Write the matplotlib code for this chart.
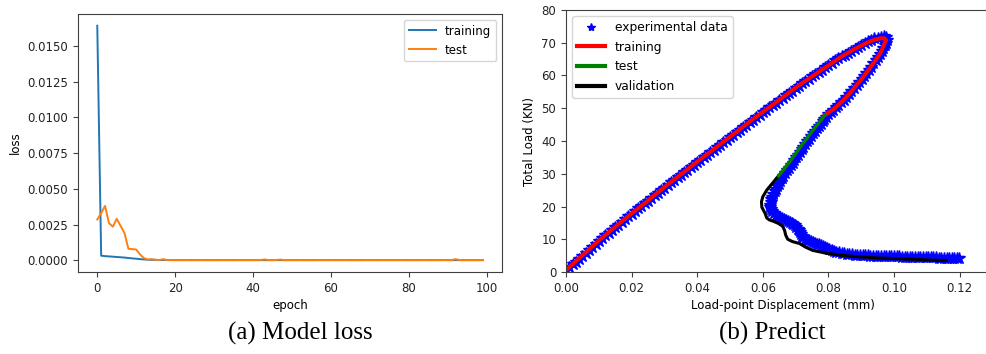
import matplotlib
matplotlib.use("Agg")
import matplotlib.pyplot as plt
from matplotlib.ticker import FormatStrFormatter

# ---- loss history (one value per epoch) ----
epochs = list(range(100))
train_loss = [
    0.0164, 0.00032, 0.00029, 0.00027, 0.00025, 0.00023, 0.00021, 0.00019, 0.00016, 0.00013,
    0.00011, 0.00008, 0.00006, 0.00004, 0.00003, 0.00003, 0.00002, 0.00002, 0.00002, 0.00001,
    0.00001, 0.00001, 0.00001, 0.00001, 0.00001, 0.00001, 0.00001, 0.00001, 0.00001, 0.00001,
    0.00001, 0.00001, 0.00001, 0.00001, 0.00001, 0.00001, 0.00001, 0.00001, 0.00001, 0.00001,
    0.00001, 0.00001, 0.00001, 0.00001, 0.00001, 0.00001, 0.00001, 0.00001, 0.00001, 0.00001,
    0.00001, 0.00001, 0.00001, 0.00001, 0.00001, 0.00001, 0.00001, 0.00001, 0.00001, 0.00001,
    0.00001, 0.00001, 0.00001, 0.00001, 0.00001, 0.00001, 0.00001, 0.00001, 0.00001, 0.00001,
    0.00001, 0.00001, 0.00001, 0.00001, 0.00001, 0.00001, 0.00001, 0.00001, 0.00001, 0.00001,
    0.00001, 0.00001, 0.00001, 0.00001, 0.00001, 0.00001, 0.00001, 0.00001, 0.00001, 0.00001,
    0.00001, 0.00001, 0.00001, 0.00001, 0.00001, 0.00001, 0.00001, 0.00001, 0.00001, 0.00001,
]
test_loss = [
    0.00285, 0.0033, 0.0038, 0.0026, 0.00235, 0.0029, 0.0024, 0.0019, 0.0008, 0.00078,
    0.00075, 0.0004, 0.00015, 0.00005, 0.00008, 0.00003, 0.00002, 0.00008, 0.00001, 0.00002,
    0.00002, 0.00001, 0.00001, 0.00002, 0.00001, 0.00001, 0.00001, 0.00002, 0.00001, 0.00001,
    0.00001, 0.00001, 0.00002, 0.00001, 0.00001, 0.00001, 0.00002, 0.00001, 0.00001, 0.00001,
    0.00001, 0.00002, 0.00001, 0.00006, 0.00001, 0.00001, 0.00002, 0.00005, 0.00001, 0.00001,
    0.00001, 0.00001, 0.00002, 0.00001, 0.00001, 0.00001, 0.00001, 0.00002, 0.00001, 0.00001,
    0.00002, 0.00001, 0.00001, 0.00001, 0.00002, 0.00001, 0.00001, 0.00001, 0.00001, 0.00002,
    0.00001, 0.00001, 0.00001, 0.00002, 0.00001, 0.00001, 0.00001, 0.00001, 0.00002, 0.00001,
    0.00001, 0.00001, 0.00001, 0.00001, 0.00002, 0.00001, 0.00001, 0.00001, 0.00001, 0.00002,
    0.00001, 0.00001, 0.00008, 0.00002, 0.00001, 0.00001, 0.00001, 0.00001, 0.00001, 0.00001,
]

# ---- experimental load / displacement, split by branch ----
# loading branch up to the peak
load_disp = [
    0.000, 0.001, 0.002, 0.003, 0.004, 0.005, 0.006, 0.007, 0.008, 0.009,
    0.010, 0.011, 0.012, 0.013, 0.014, 0.015, 0.016, 0.017, 0.018, 0.019,
    0.020, 0.021, 0.022, 0.023, 0.024, 0.025, 0.026, 0.027, 0.028, 0.029,
    0.030, 0.031, 0.032, 0.033, 0.034, 0.035, 0.036, 0.037, 0.038, 0.039,
    0.040, 0.041, 0.042, 0.043, 0.044, 0.045, 0.046, 0.047, 0.048, 0.049,
    0.050, 0.051, 0.052, 0.053, 0.054, 0.055, 0.056, 0.057, 0.058, 0.059,
    0.060, 0.061, 0.062, 0.063, 0.064, 0.065, 0.066, 0.067, 0.068, 0.069,
    0.070, 0.071, 0.072, 0.073, 0.074, 0.075, 0.076, 0.077, 0.078, 0.079,
    0.080, 0.081, 0.082, 0.083, 0.084, 0.085, 0.086, 0.087, 0.088, 0.089,
    0.090, 0.091, 0.092, 0.093, 0.094, 0.095, 0.096, 0.097, 0.0975,
]
load_kn = [
    0.5, 1.4, 2.3, 3.2, 4.1, 5.0, 5.9, 6.8, 7.7, 8.6,
    9.5, 10.4, 11.2, 12.0, 12.8, 13.7, 14.5, 15.3, 16.1, 17.0,
    17.8, 18.6, 19.4, 20.2, 21.0, 21.8, 22.6, 23.4, 24.2, 25.0,
    25.8, 26.6, 27.4, 28.1, 28.9, 29.7, 30.5, 31.2, 32.0, 32.8,
    33.6, 34.3, 35.1, 35.8, 36.6, 37.4, 38.2, 38.9, 39.7, 40.4,
    41.2, 41.9, 42.7, 43.5, 44.3, 45.0, 45.8, 46.5, 47.3, 48.0,
    48.8, 49.5, 50.3, 51.0, 51.7, 52.4, 53.2, 53.9, 54.7, 55.4,
    56.2, 56.9, 57.6, 58.3, 59.0, 59.7, 60.5, 61.1, 61.8, 62.5,
    63.2, 63.9, 64.6, 65.2, 65.9, 66.4, 67.0, 67.6, 68.2, 68.8,
    69.4, 70.0, 70.5, 70.9, 71.3, 71.6, 71.9, 72.1, 71.8,
]
# post-peak unloading branch
unload_disp = [
    0.0980, 0.0976, 0.0972, 0.0967, 0.0962, 0.0956, 0.0950, 0.0944, 0.0937, 0.0930,
    0.0923, 0.0916, 0.0908, 0.0901, 0.0893, 0.0886, 0.0878, 0.0870, 0.0862, 0.0854,
    0.0846, 0.0838, 0.0830, 0.0822, 0.0815, 0.0808, 0.0800, 0.0794, 0.0788, 0.0782,
    0.0776, 0.0770, 0.0764, 0.0758, 0.0752, 0.0746, 0.0740, 0.0735, 0.0729, 0.0724,
    0.0718, 0.0713, 0.0707, 0.0702, 0.0696, 0.0691, 0.0685, 0.0680, 0.0674, 0.0669,
    0.0663, 0.0658, 0.0653, 0.0648, 0.0644, 0.0640, 0.0636, 0.0632, 0.0629, 0.0626,
    0.0624, 0.0623, 0.0623,
]
unload_kn = [
    70.8, 70.0, 69.2, 68.3, 67.5, 66.5, 65.6, 64.7, 63.7, 62.7,
    61.8, 60.8, 59.9, 58.9, 58.0, 57.1, 56.2, 55.2, 54.3, 53.4,
    52.6, 51.8, 51.0, 50.3, 49.6, 48.8, 48.1, 47.4, 46.8, 46.0,
    45.3, 44.6, 43.9, 43.1, 42.3, 41.5, 40.7, 39.9, 39.1, 38.3,
    37.5, 36.6, 35.8, 35.0, 34.2, 33.4, 32.6, 31.8, 31.0, 30.2,
    29.4, 28.6, 27.8, 27.0, 26.2, 25.4, 24.6, 23.8, 23.0, 22.2,
    21.4, 20.6, 19.9,
]
# softening tail
soft_disp = [
    0.0625, 0.0628, 0.0633, 0.0640, 0.0646, 0.0652, 0.0658, 0.0664, 0.0670, 0.0676,
    0.0682, 0.0688, 0.0693, 0.0698, 0.0702, 0.0706, 0.0709, 0.0712, 0.0715, 0.0718,
    0.0723, 0.0728, 0.0734, 0.0741, 0.0747, 0.0754, 0.0760, 0.0766, 0.0772, 0.0778,
    0.0784, 0.0790, 0.0796, 0.0803, 0.0810, 0.0817, 0.0824, 0.0832, 0.0840, 0.0848,
    0.0856, 0.0864, 0.0872, 0.0880, 0.0888, 0.0896, 0.0904, 0.0912, 0.0920, 0.0928,
    0.0936, 0.0944, 0.0952, 0.0960, 0.0968, 0.0976, 0.0984, 0.0992, 0.1000, 0.1008,
    0.1016, 0.1024, 0.1032, 0.1040, 0.1048, 0.1056, 0.1064, 0.1072, 0.1080, 0.1088,
    0.1096, 0.1104, 0.1112, 0.1120, 0.1128, 0.1136, 0.1144, 0.1152, 0.1160, 0.1168,
    0.1176, 0.1184, 0.1192, 0.1198,
]
soft_kn = [
    19.2, 18.5, 17.9, 17.4, 17.1, 16.8, 16.5, 16.2, 15.9, 15.6,
    15.3, 15.0, 14.6, 14.2, 13.7, 13.2, 12.7, 12.1, 11.6, 11.0,
    10.6, 10.2, 9.9, 9.7, 9.4, 9.2, 8.9, 8.7, 8.4, 8.1,
    7.8, 7.5, 7.2, 6.9, 6.6, 6.4, 6.2, 6.0, 5.8, 5.7,
    5.6, 5.5, 5.4, 5.3, 5.25, 5.2, 5.15, 5.1, 5.05, 5.0,
    5.0, 5.0, 4.95, 4.9, 4.9, 4.9, 4.85, 4.8, 4.8, 4.8,
    4.75, 4.7, 4.7, 4.7, 4.65, 4.6, 4.6, 4.6, 4.55, 4.5,
    4.5, 4.5, 4.5, 4.5, 4.45, 4.4, 4.4, 4.4, 4.4, 4.4,
    4.35, 4.3, 4.3, 4.3,
]

# ---- model predictions ----
train_disp = [0.000, 0.004, 0.008, 0.012, 0.016, 0.020, 0.024, 0.028, 0.032, 0.036,
              0.040, 0.044, 0.048, 0.052, 0.056, 0.060, 0.064, 0.068, 0.072, 0.076,
              0.080, 0.084, 0.088, 0.0915, 0.0940, 0.0960, 0.0972, 0.0976, 0.0972,
              0.0958, 0.0940, 0.0920, 0.0900, 0.0880, 0.0860, 0.0840, 0.0815, 0.0789]
train_load = [0.6, 4.2, 7.8, 11.3, 14.6, 17.9, 21.0, 24.3, 27.5, 30.6,
              33.7, 36.7, 39.8, 42.8, 45.9, 48.9, 51.8, 54.8, 57.7, 60.4,
              63.1, 65.8, 68.1, 69.9, 70.9, 71.4, 71.3, 70.8, 70.0,
              66.8, 64.2, 61.4, 58.8, 56.4, 54.0, 51.9, 49.7, 47.9]

test_disp = [0.0789, 0.0760, 0.0734, 0.0710, 0.0688, 0.0665, 0.0642]
test_load = [47.9, 44.2, 40.8, 37.6, 34.5, 31.5, 28.6]

val_disp = [0.0642, 0.0625, 0.0612, 0.0600, 0.0596, 0.0597, 0.0607, 0.0612, 0.0620, 0.0632,
            0.0648, 0.0660, 0.0666, 0.0670, 0.0676, 0.0690, 0.0712, 0.0730, 0.0752, 0.0795,
            0.0850, 0.0900, 0.0950, 0.1000, 0.1060, 0.1100, 0.1160]
val_load = [28.6, 26.6, 25.0, 23.0, 21.5, 19.8, 17.9, 16.5, 15.9, 15.5,
            14.8, 14.0, 12.8, 11.2, 10.0, 9.3, 8.7, 7.6, 6.6, 5.7,
            5.0, 4.6, 4.3, 4.1, 3.9, 3.7, 3.5]

W, H = 986, 354
fig = plt.figure(figsize=(W / 100, H / 100), dpi=100)
plt.rcParams['font.family'] = 'DejaVu Sans'
SPINE = '#404040'
TICK_FS = 8.5


def style(ax):
    for s in ax.spines.values():
        s.set_color(SPINE)
    ax.tick_params(labelsize=TICK_FS, colors=SPINE, labelcolor='#222222', length=3.5)


# (a) model loss
ax1 = fig.add_axes([78 / W, 1 - 272 / H, (502 - 78) / W, (272 - 14) / H])
ax1.plot(epochs, train_loss, color='tab:blue', lw=1.4, label='training')
ax1.plot(epochs, test_loss, color='tab:orange', lw=1.4, label='test')
ax1.set_xlim(-4.95, 103.95)
ax1.set_ylim(-0.00082, 0.01722)
ax1.set_xticks([0, 20, 40, 60, 80, 100])
ax1.set_yticks([0.0, 0.0025, 0.005, 0.0075, 0.01, 0.0125, 0.015])
ax1.yaxis.set_major_formatter(FormatStrFormatter('%.4f'))
ax1.set_xlabel('epoch', fontsize=TICK_FS, labelpad=3)
ax1.set_ylabel('loss', fontsize=TICK_FS, labelpad=4)
style(ax1)
ax1.legend(loc='upper right', fontsize=TICK_FS, handlelength=2.3, borderaxespad=0.5)

# (b) prediction vs experiment
exp_disp = load_disp + unload_disp + soft_disp
exp_load = load_kn + unload_kn + soft_kn

ax2 = fig.add_axes([566 / W, 1 - 272 / H, 433 / W, (272 - 10) / H])
ax2.plot(exp_disp, exp_load, ls='none', marker='*', ms=9, color='blue',
         markeredgecolor='blue', label='experimental data')
ax2.plot(train_disp, train_load, color='red', lw=2.8, label='training')
ax2.plot(test_disp, test_load, color='green', lw=2.4, label='test')
ax2.plot(val_disp, val_load, color='black', lw=2.2, label='validation')
ax2.set_xlim(0, 0.132)
ax2.set_ylim(0, 80)
ax2.set_xticks([0.0, 0.02, 0.04, 0.06, 0.08, 0.10, 0.12])
ax2.xaxis.set_major_formatter(FormatStrFormatter('%.2f'))
ax2.set_yticks(range(0, 81, 10))
ax2.set_xlabel('Load-point Displacement (mm)', fontsize=TICK_FS, labelpad=3)
ax2.set_ylabel('Total Load (KN)', fontsize=TICK_FS, labelpad=4)
style(ax2)
ax2.spines['right'].set_visible(False)
leg = ax2.legend(loc='upper left', fontsize=8.8, handlelength=2.3,
                 borderaxespad=0.5, labelspacing=0.55)
leg.legend_handles[0].set_markersize(6)
for h in leg.legend_handles[1:]:
    h.set_linewidth(3)

# captions under each panel
fig.text(300 / W, 1 - 333 / H, '(a) Model loss', ha='center', va='center',
         fontsize=18, family='Liberation Serif')
fig.text(772 / W, 1 - 333 / H, '(b) Predict', ha='center', va='center',
         fontsize=18, family='Liberation Serif')

fig.savefig('out.png', dpi=100)
